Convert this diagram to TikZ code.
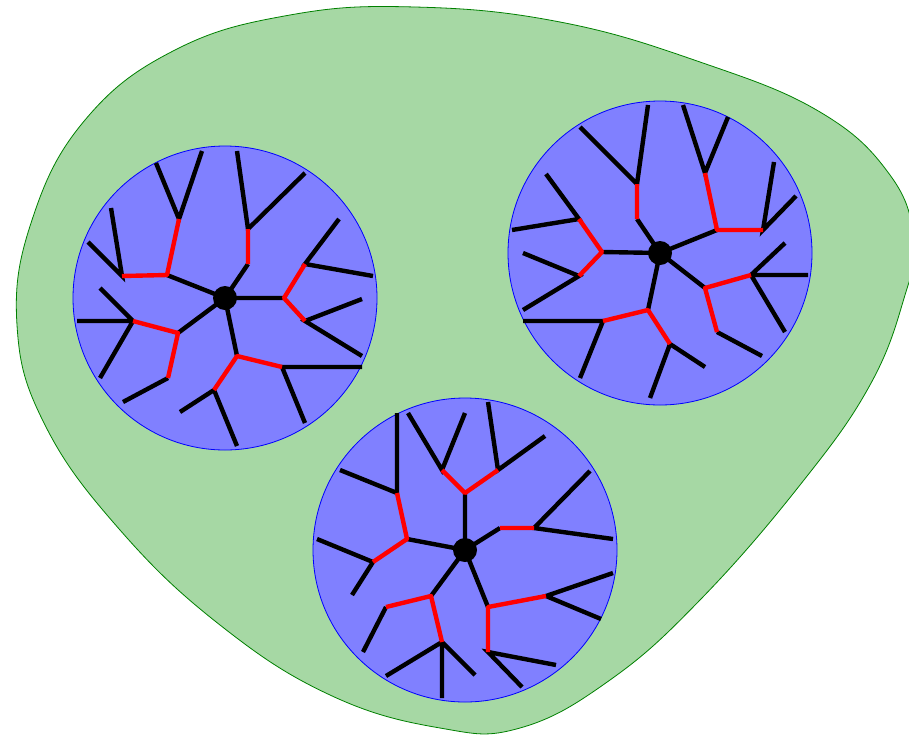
\documentclass[tikz,border=0pt]{standalone}
\begin{document}
\begin{tikzpicture}[x=1pt,y=-1pt,
  blk/.style={line width=4.4pt,black},
  rd/.style={line width=4.4pt,red},
  disc/.style={circle,fill=black,inner sep=0pt,minimum size=24pt},
  bigcirc/.style={draw=blue,fill={rgb,255:red,128;green,128;blue,255},line width=0.8pt}]
\useasboundingbox (0,0) rectangle (909,734);
\definecolor{blobfill}{RGB}{166,216,164}
\definecolor{blobline}{RGB}{0,128,0}
\begin{scope}
\clip (0,0) rectangle (909,734);
\draw[blobline,fill=blobfill,line width=0.8pt] plot[smooth cycle,tension=0.7] coordinates {
(415,7) (560,22) (700,62) (820,112) (890,175) (914,240) (905,295) (870,385) (800,485) (700,600) (610,680) (520,728) (440,728) (330,695) (220,625) (120,530) (45,425) (17,325) (32,220) (85,120) (175,50) (290,15)};
\end{scope}
\draw[bigcirc] (225,298) circle (152);
\draw[bigcirc] (660,253) circle (152);
\draw[bigcirc] (465,550) circle (152);

% ---------- tree 1 ----------
\coordinate (c1) at (225,298);
\coordinate (a1) at (167,275); \coordinate (b1) at (179,219); \coordinate (d1) at (122,276);
\coordinate (b1x) at (156,163); \coordinate (b1y) at (202,151);
\coordinate (d1x) at (111,208); \coordinate (d1y) at (88,242);
\coordinate (f1) at (178,333); \coordinate (e1) at (133,321); \coordinate (g1) at (168,378);
\coordinate (e1x) at (77,321); \coordinate (e1y) at (100,378); \coordinate (e1z) at (100,288);
\coordinate (g1x) at (123,402);
\coordinate (i1) at (237,356); \coordinate (h1) at (214,390); \coordinate (j1) at (282,367);
\coordinate (h1x) at (180,412); \coordinate (h1y) at (237,446);
\coordinate (j1x) at (362,367); \coordinate (j1y) at (305,423);
\coordinate (l1) at (284,298); \coordinate (k1) at (305,321); \coordinate (m1) at (305,264);
\coordinate (k1x) at (362,299); \coordinate (k1y) at (362,356);
\coordinate (m1x) at (339,219); \coordinate (m1y) at (373,276);
\coordinate (n1) at (248,264); \coordinate (o1) at (248,229);
\coordinate (o1x) at (237,151); \coordinate (o1y) at (305,173);
\draw[blk] (c1)--(a1) (c1)--(f1) (c1)--(i1) (c1)--(l1) (c1)--(n1);
\draw[blk] (b1x)--(b1)--(b1y) (d1x)--(d1)--(d1y);
\draw[blk] (e1x)--(e1) (e1y)--(e1) (e1z)--(e1) (g1)--(g1x);
\draw[blk] (h1x)--(h1)--(h1y) (j1x)--(j1)--(j1y);
\draw[blk] (k1x)--(k1)--(k1y) (m1x)--(m1)--(m1y);
\draw[blk] (o1x)--(o1)--(o1y);
\draw[rd,line join=round] (b1)--(a1)--(d1) (e1)--(f1)--(g1) (h1)--(i1)--(j1) (k1)--(l1)--(m1) (n1)--(o1);
\node[disc] (dot1) at (c1) {};

% ---------- tree 2 ----------
\coordinate (c2) at (660,253);
\coordinate (p2) at (637,219); \coordinate (q2) at (637,184);
\coordinate (q2x) at (648,105); \coordinate (q2y) at (580,127);
\coordinate (r2) at (602,252); \coordinate (s2) at (579,219); \coordinate (t2) at (579,276);
\coordinate (s2x) at (546,174); \coordinate (s2y) at (512,230);
\coordinate (t2x) at (523,253); \coordinate (t2y) at (523,310);
\coordinate (u2) at (648,310); \coordinate (v2) at (603,321); \coordinate (w2) at (670,344);
\coordinate (v2x) at (523,321); \coordinate (v2y) at (580,378);
\coordinate (w2x) at (650,398); \coordinate (w2y) at (705,367);
\coordinate (x2) at (705,288); \coordinate (y2) at (751,275); \coordinate (z2) at (717,332);
\coordinate (y2x) at (808,275); \coordinate (y2y) at (785,332); \coordinate (y2z) at (785,243);
\coordinate (z2x) at (762,356);
\coordinate (aa2) at (717,230); \coordinate (bb2) at (705,173); \coordinate (cc2) at (763,230);
\coordinate (bb2x) at (683,105); \coordinate (bb2y) at (728,117);
\coordinate (cc2x) at (774,162); \coordinate (cc2y) at (796,196);
\draw[blk] (c2)--(p2) (c2)--(r2) (c2)--(u2) (c2)--(x2) (c2)--(aa2);
\draw[blk] (q2x)--(q2)--(q2y) (s2x)--(s2)--(s2y) (t2x)--(t2)--(t2y);
\draw[blk] (v2x)--(v2)--(v2y) (w2x)--(w2)--(w2y);
\draw[blk] (y2x)--(y2) (y2y)--(y2) (y2z)--(y2) (z2)--(z2x);
\draw[blk] (bb2x)--(bb2)--(bb2y) (cc2x)--(cc2)--(cc2y);
\draw[rd,line join=round] (p2)--(q2) (s2)--(r2)--(t2) (v2)--(u2)--(w2) (y2)--(x2)--(z2) (bb2)--(aa2)--(cc2);
\node[disc] (dot2) at (c2) {};

% ---------- tree 3 ----------
\coordinate (c3) at (465,550);
\coordinate (dd3) at (465,493); \coordinate (ee3) at (442,470); \coordinate (ff3) at (498,470);
\coordinate (ee3x) at (408,413); \coordinate (ee3y) at (465,413);
\coordinate (ff3x) at (488,402); \coordinate (ff3y) at (545,436);
\coordinate (gg3) at (407,539); \coordinate (hh3) at (397,493); \coordinate (ii3) at (373,562);
\coordinate (hh3x) at (397,413); \coordinate (hh3y) at (340,470);
\coordinate (ii3x) at (317,539); \coordinate (ii3y) at (352,595);
\coordinate (jj3) at (500,528); \coordinate (kk3) at (534,528);
\coordinate (kk3x) at (590,471); \coordinate (kk3y) at (613,539);
\coordinate (ll3) at (431,596); \coordinate (mm3) at (386,607); \coordinate (nn3) at (442,642);
\coordinate (mm3x) at (363,652);
\coordinate (nn3x) at (386,676); \coordinate (nn3y) at (442,698); \coordinate (nn3z) at (475,675);
\coordinate (oo3) at (488,607); \coordinate (pp3) at (546,596); \coordinate (qq3) at (488,652);
\coordinate (pp3x) at (613,573); \coordinate (pp3y) at (601,619);
\coordinate (qq3x) at (556,665); \coordinate (qq3y) at (522,687);
\draw[blk] (c3)--(dd3) (c3)--(gg3) (c3)--(jj3) (c3)--(ll3) (c3)--(oo3);
\draw[blk] (ee3x)--(ee3)--(ee3y) (ff3x)--(ff3)--(ff3y);
\draw[blk] (hh3x)--(hh3)--(hh3y) (ii3x)--(ii3)--(ii3y);
\draw[blk] (kk3x)--(kk3)--(kk3y) (mm3)--(mm3x);
\draw[blk] (nn3x)--(nn3) (nn3y)--(nn3) (nn3z)--(nn3);
\draw[blk] (pp3x)--(pp3)--(pp3y) (qq3x)--(qq3)--(qq3y);
\draw[rd,line join=round] (ee3)--(dd3)--(ff3) (hh3)--(gg3)--(ii3) (jj3)--(kk3) (mm3)--(ll3)--(nn3) (pp3)--(oo3)--(qq3);
\node[disc] (dot3) at (c3) {};
\end{tikzpicture}
\end{document}
